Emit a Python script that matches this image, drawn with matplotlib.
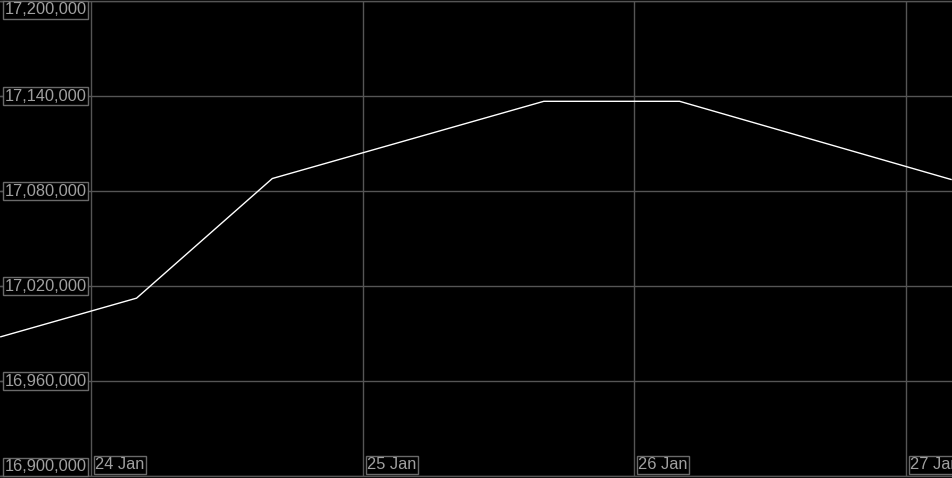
import numpy as np
import matplotlib
matplotlib.use("Agg")
import matplotlib.pyplot as plt
import matplotlib.dates as mdates
from datetime import datetime

plt.rcParams['font.family'] = ['Liberation Sans', 'DejaVu Sans']

# data
times = [datetime(2025, 1, 23, 16), datetime(2025, 1, 24, 4), datetime(2025, 1, 24, 16),
         datetime(2025, 1, 25, 16), datetime(2025, 1, 26, 4), datetime(2025, 1, 27, 4)]
values = [16988000, 17012400, 17088000, 17136800, 17136800, 17087400]

y_ticks = [16900000, 16960000, 17020000, 17080000, 17140000, 17200000]
x_ticks = [datetime(2025, 1, 24), datetime(2025, 1, 25), datetime(2025, 1, 26), datetime(2025, 1, 27)]
x_labels = ["24 Jan", "25 Jan", "26 Jan", "27 Jan"]

grid_col = "#555555"
box_col = "#6a6a6a"
txt_col = "#a0a0a0"

fig = plt.figure(figsize=(9.53, 4.78), dpi=100, facecolor="black")
ax = fig.add_axes([0, 2 / 478, 1, 474.7 / 478])
ax.set_facecolor("black")

ax.plot(mdates.date2num(times), values, color="white", lw=1.0, zorder=3)

d0 = mdates.date2num(datetime(2025, 1, 24))
ax.set_xlim(d0 - 0.3363, d0 + 3.1738)
ax.set_ylim(y_ticks[0], y_ticks[-1])

ax.set_xticks(mdates.date2num(x_ticks))
ax.set_yticks(y_ticks)
ax.grid(True, color=grid_col, lw=1.0)
ax.set_xticklabels([])
ax.set_yticklabels([])
ax.tick_params(axis="y", direction="in", length=3, color=grid_col, width=1)
ax.tick_params(axis="x", length=0)

for side in ["left", "right"]:
    ax.spines[side].set_visible(False)
for side in ["top", "bottom"]:
    ax.spines[side].set_color(grid_col)
    ax.spines[side].set_linewidth(1.0)

bbox = dict(boxstyle="square,pad=0.08", fc="black", ec=box_col, lw=1.0)

for i, v in enumerate(y_ticks):
    if i == 0:
        va, dy = "bottom", 1.2
    elif i == len(y_ticks) - 1:
        va, dy = "top", -0.8
    else:
        va, dy = "center", 0
    ax.annotate(f"{v:,}", xy=(0, v), xycoords=ax.get_yaxis_transform(),
                xytext=(3.4, dy), textcoords="offset points",
                ha="left", va=va, fontsize=11.8, color=txt_col, bbox=bbox,
                annotation_clip=False, zorder=5)

for t, lab in zip(x_ticks, x_labels):
    ax.annotate(lab, xy=(mdates.date2num(t), 0), xycoords=ax.get_xaxis_transform(),
                xytext=(3.0, 2.6), textcoords="offset points",
                ha="left", va="bottom", fontsize=11.8, color=txt_col, bbox=bbox,
                annotation_clip=False, zorder=5)

fig.savefig("out.png", dpi=100, facecolor="black")
